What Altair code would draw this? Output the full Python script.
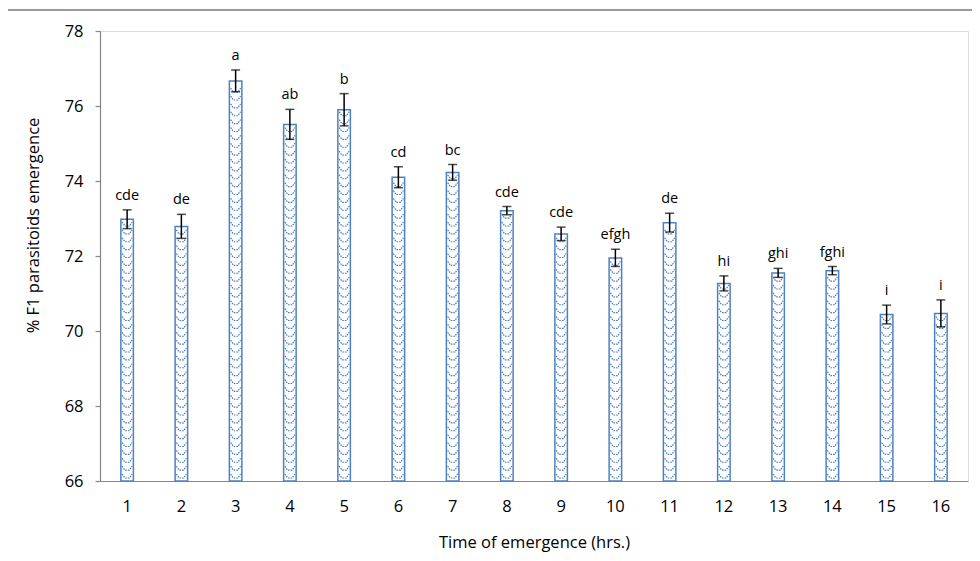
import altair as alt
import pandas as pd

times = ["1", "2", "3", "4", "5", "6", "7", "8", "9", "10", "11", "12", "13", "14", "15", "16"]
means = [72.98, 72.79, 76.67, 75.51, 75.90, 74.10, 74.23, 73.21, 72.59, 71.95, 72.89, 71.27, 71.55, 71.61, 70.44, 70.47]
errs = [0.25, 0.32, 0.29, 0.40, 0.43, 0.28, 0.21, 0.11, 0.18, 0.23, 0.25, 0.20, 0.12, 0.11, 0.25, 0.36]
letters = ["cde", "de", "a", "ab", "b", "cd", "bc", "cde", "cde", "efgh", "de", "hi", "ghi", "fghi", "i", "i"]
y_ticks = [66, 68, 70, 72, 74, 76, 78]

df = pd.DataFrame({"time": times, "mean": means, "err": errs, "letter": letters})

AX = "#868686"
BLUE = "#4f81bd"
FONT = "Open Sans"

x_enc = alt.X(
    "time:N", sort=times,
    scale=alt.Scale(paddingInner=0, paddingOuter=0),
    axis=alt.Axis(title="Time of emergence (hrs.)", labelAngle=0, ticks=False,
                  labelPadding=17, titleY=61, titleBaseline="middle",
                  domainColor=AX, domainWidth=1.2, labelFontSize=16.5, titleFontSize=16.5,
                  labelColor="#000000", titleColor="#000000", titleFontWeight="normal",
                  labelFont=FONT, titleFont=FONT),
)

y_scale = alt.Scale(domain=[66, 78], nice=False, zero=False)
y_axis = alt.Axis(title="% F1 parasitoids emergence", values=y_ticks, grid=False,
                  tickSize=5, tickColor=AX, domainColor=AX, domainWidth=1.2, tickWidth=1.2,
                  labelPadding=12, labelFontSize=16.5, titleFontSize=16.5,
                  labelColor="#000000", titleColor="#000000", titleFontWeight="normal",
                  titleX=-67, titleY=194, titleAngle=270, titleAlign="center",
                  titleBaseline="middle", labelFont=FONT, titleFont=FONT)

base = alt.Chart(df).transform_calculate(
    lo="datum.mean - datum.err", hi="datum.mean + datum.err"
)

bars = base.mark_bar(size=12.5, fill="white", stroke=BLUE, strokeWidth=1.5).encode(
    x=x_enc,
    y=alt.Y("mean:Q", scale=y_scale, axis=y_axis),
    y2=alt.datum(66),
)

pattern = base.transform_calculate(
    seq="sequence(66.12, datum.mean - 0.06, 0.21)"
).transform_flatten(["seq"]).mark_point(
    shape="M -1 -0.5 L -0.45 0.3 L 0.45 0.3 L 1 -0.5", size=100, filled=False,
    stroke="#4a7cc0", strokeWidth=1.2, strokeDash=[1.6, 1.0], opacity=1,
).encode(
    x=x_enc,
    y=alt.Y("seq:Q", scale=y_scale, axis=y_axis),
)

rules = base.mark_rule(color="#000000", strokeWidth=1.5).encode(
    x=x_enc,
    y=alt.Y("lo:Q", scale=y_scale, axis=y_axis),
    y2="hi:Q",
)
cap_hi = base.mark_tick(color="#000000", size=9, thickness=1.5).encode(
    x=x_enc, y=alt.Y("hi:Q", scale=y_scale, axis=y_axis)
)
cap_lo = base.mark_tick(color="#000000", size=9, thickness=1.5).encode(
    x=x_enc, y=alt.Y("lo:Q", scale=y_scale, axis=y_axis)
)

labels = base.mark_text(baseline="alphabetic", dy=-10, fontSize=14.5, font=FONT,
                        color="#000000").encode(
    x=x_enc,
    y=alt.Y("hi:Q", scale=y_scale, axis=y_axis),
    text="letter:N",
)

one = alt.Chart(pd.DataFrame({"k": [0]}))
border_top = one.mark_rule(color="#9a9a9a", strokeWidth=2).encode(
    x=alt.value(-93), x2=alt.value(900), y=alt.value(-21)
)
border_left = one.mark_rule(color="#9a9a9a", strokeWidth=2).encode(
    x=alt.value(-93), y=alt.value(-21), y2=alt.value(540)
)

chart = alt.layer(
    border_top, border_left, bars, pattern, rules, cap_hi, cap_lo, labels
).properties(
    width=868, height=450,
    padding={"left": 92, "top": 23, "right": 4, "bottom": 72},
    autosize=alt.AutoSizeParams(type="none"),
).configure_view(stroke=None).configure(font=FONT)

chart.save("out.html", embed_options={"renderer": "svg", "actions": False})
